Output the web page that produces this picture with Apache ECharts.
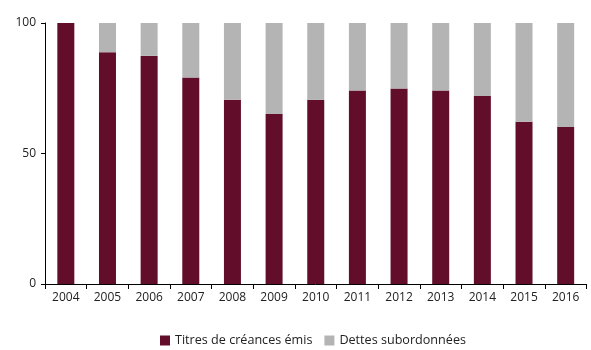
<!DOCTYPE html>
<html><head><meta charset="utf-8">
<script src="https://cdn.jsdelivr.net/npm/echarts@6/dist/echarts.min.js"></script>
<style>html,body{margin:0;padding:0;background:#fff}#c{width:591px;height:350px}</style>
</head><body><div id="c"></div>
<script>
const categories = ['2004','2005','2006','2007','2008','2009','2010','2011','2012','2013','2014','2015','2016'];
const titres = [100, 88.8, 87.4, 79.1, 70.6, 65.1, 70.6, 74.1, 74.9, 74.1, 72.0, 62.2, 60.2];
const dettes = [0, 11.2, 12.6, 20.9, 29.4, 34.9, 29.4, 25.9, 25.1, 25.9, 28.0, 37.8, 39.8];
const yTicks = [0, 50, 100];

const chart = echarts.init(document.getElementById('c'), null, {renderer:'canvas'});
const font = '"Open Sans", sans-serif';
chart.setOption({
  animation: false,
  textStyle: {fontFamily: font},
  grid: {left: 45, right: 4.5, top: 23, bottom: 66, containLabel: false},
  legend: {
    top: 334, left: 160, padding: 0, itemWidth: 10, itemHeight: 10, itemGap: 12,
    icon: 'rect',
    textStyle: {fontFamily: font, fontSize: 12.6, color: '#222'},
    data: ['Titres de créances émis', 'Dettes subordonnées']
  },
  xAxis: {
    type: 'category', data: categories,
    axisLine: {lineStyle: {color: '#000', width: 1}},
    axisTick: {show: true, length: 5, lineStyle: {color: '#000'}},
    axisLabel: {fontFamily: font, fontSize: 12, color: '#222', margin: 8}
  },
  yAxis: {
    type: 'value', min: 0, max: 100, interval: 50,
    axisLine: {show: true, lineStyle: {color: '#000', width: 1}},
    axisTick: {show: true, length: 4, lineStyle: {color: '#000'}},
    splitLine: {show: false},
    axisLabel: {fontFamily: font, fontSize: 12, color: '#222', margin: 9,
      formatter: v => yTicks.includes(v) ? String(v) : ''}
  },
  series: [
    {name: 'Titres de créances émis', type: 'bar', stack: 's', data: titres, barWidth: 17,
     itemStyle: {color: '#620E2A'}},
    {name: 'Dettes subordonnées', type: 'bar', stack: 's', data: dettes, barWidth: 17,
     itemStyle: {color: '#B4B4B4'}}
  ]
});
</script></body></html>
